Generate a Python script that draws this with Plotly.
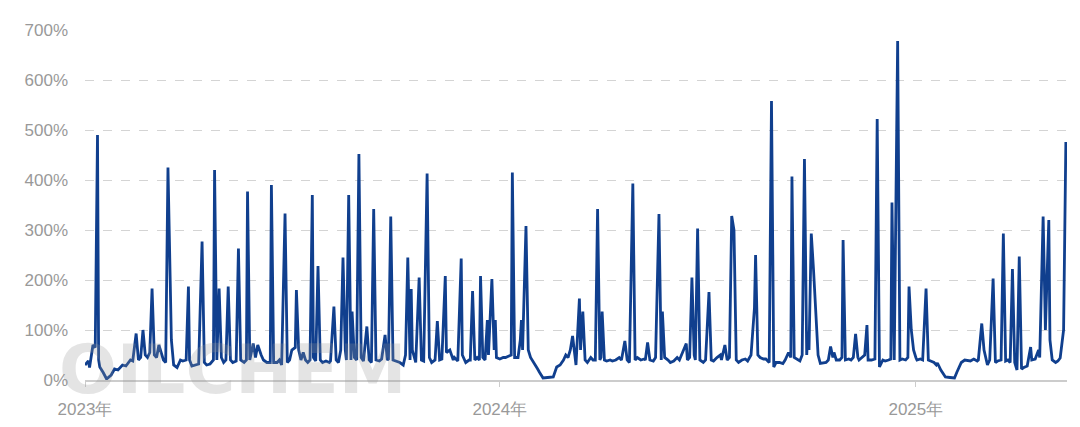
import pandas as pd
import plotly.graph_objects as go

start_date = "2023-01-01"
end_day = 864  # last calendar day shown on the axis (days after start_date)

# calendar days after start_date
days = [
    0, 3, 4, 7, 9, 11, 12, 13, 16, 19, 23, 26, 29, 33, 36, 40, 42, 45, 47, 49,
    51, 53, 55, 57, 59, 61, 63, 65, 67, 69, 71, 73, 76, 78, 81, 84, 86, 89, 91, 92,
    94, 98, 100, 103, 105, 107, 110, 113, 114, 116, 118, 120, 122, 124, 126, 128, 130, 133, 135, 137,
    140, 142, 143, 145, 148, 150, 152, 155, 157, 160, 163, 164, 166, 169, 171, 173, 176, 178, 180, 182,
    185, 186, 188, 190, 192, 194, 196, 198, 200, 201, 203, 205, 207, 209, 212, 215, 216, 219, 221, 223,
    225, 227, 229, 230, 232, 234, 235, 237, 239, 241, 243, 245, 248, 250, 252, 254, 256, 259, 261, 264,
    266, 267, 269, 271, 274, 277, 280, 282, 284, 286, 287, 288, 291, 294, 296, 298, 301, 303, 305, 308,
    310, 312, 314, 317, 318, 321, 324, 325, 328, 331, 332, 335, 338, 339, 341, 343, 345, 347, 348, 350,
    352, 354, 355, 358, 360, 361, 362, 365, 368, 370, 373, 375, 376, 378, 381, 383, 384, 385, 388, 390,
    392, 395, 398, 400, 403, 407, 412, 415, 418, 421, 423, 425, 427, 429, 431, 432, 435, 436, 438, 440,
    442, 445, 447, 449, 451, 453, 454, 455, 457, 459, 462, 464, 467, 470, 472, 475, 477, 479, 482, 484,
    486, 489, 492, 493, 495, 497, 500, 502, 505, 507, 508, 510, 513, 515, 518, 521, 523, 526, 529, 530,
    532, 534, 536, 537, 539, 541, 544, 546, 549, 551, 553, 556, 559, 560, 563, 565, 567, 569, 571, 573,
    575, 578, 581, 583, 586, 589, 590, 592, 594, 597, 599, 602, 604, 606, 608, 611, 614, 616, 619, 621,
    622, 624, 627, 629, 631, 633, 635, 636, 637, 639, 641, 643, 645, 647, 650, 652, 654, 656, 658, 659,
    661, 664, 666, 667, 669, 672, 674, 676, 678, 680, 681, 684, 686, 688, 689, 692, 695, 697, 699, 702,
    704, 707, 709, 710, 712, 715, 717, 719, 722, 724, 725, 727, 729, 731, 732, 735, 737, 740, 742, 744,
    747, 749, 750, 753, 757, 761, 765, 767, 769, 771, 774, 777, 779, 782, 785, 786, 789, 791, 793, 794,
    796, 799, 801, 803, 806, 808, 810, 812, 814, 816, 818, 820, 822, 824, 826, 829, 832, 833, 836, 839,
    840, 843, 845, 848, 849, 851, 854, 856, 858, 861, 863,
]

# value in %
values = [
    30, 38, 25, 70, 65, 490, 40, 26, 15, 2, 10, 22, 20, 30, 28, 40, 38, 93, 40, 45,
    100, 50, 45, 55, 183, 50, 45, 70, 55, 40, 35, 425, 80, 30, 25, 40, 38, 40, 187, 40,
    28, 30, 32, 277, 35, 30, 32, 40, 420, 40, 183, 45, 35, 40, 187, 40, 35, 38, 263, 40,
    35, 40, 377, 40, 73, 45, 70, 50, 40, 35, 35, 390, 35, 35, 40, 30, 333, 35, 40, 60,
    65, 180, 60, 40, 55, 40, 35, 40, 370, 45, 38, 228, 40, 35, 38, 35, 38, 147, 40, 35,
    60, 245, 60, 40, 370, 40, 137, 45, 40, 452, 45, 38, 107, 40, 35, 342, 40, 38, 42, 90,
    40, 42, 327, 40, 38, 35, 30, 50, 245, 40, 182, 60, 35, 205, 40, 38, 413, 45, 35, 40,
    118, 40, 42, 208, 55, 60, 40, 45, 38, 243, 50, 35, 40, 40, 178, 40, 45, 40, 208, 45,
    40, 120, 50, 202, 60, 120, 45, 42, 45, 45, 48, 50, 415, 45, 45, 80, 120, 60, 308, 60,
    45, 35, 23, 15, 4, 5, 6, 26, 30, 40, 50, 45, 60, 88, 40, 30, 163, 60, 137, 40,
    35, 45, 40, 40, 342, 40, 45, 137, 40, 38, 40, 38, 40, 45, 40, 78, 40, 35, 393, 40,
    45, 40, 42, 40, 75, 40, 38, 45, 332, 40, 137, 45, 40, 35, 38, 45, 40, 55, 73, 40,
    45, 205, 50, 40, 303, 40, 35, 40, 176, 40, 38, 45, 50, 40, 70, 40, 45, 328, 300, 40,
    35, 40, 42, 38, 50, 144, 250, 50, 45, 42, 42, 35, 558, 26, 35, 35, 33, 40, 55, 45,
    407, 45, 40, 38, 50, 442, 50, 97, 60, 293, 220, 120, 50, 33, 35, 35, 40, 67, 45, 55,
    40, 40, 45, 280, 40, 42, 40, 45, 92, 45, 40, 45, 50, 110, 40, 40, 42, 522, 26, 40,
    38, 40, 42, 355, 40, 678, 40, 42, 40, 45, 187, 100, 60, 45, 40, 42, 40, 183, 40, 38,
    35, 30, 34, 20, 6, 5, 4, 15, 26, 35, 40, 38, 38, 42, 38, 40, 113, 60, 38, 30,
    40, 203, 35, 38, 40, 293, 38, 40, 35, 222, 35, 20, 247, 22, 25, 28, 66, 40, 42, 60,
    45, 327, 100, 320, 80, 40, 35, 38, 44, 100, 476,
]

y_ticks = [0, 100, 200, 300, 400, 500, 600, 700]
y_tick_labels = [f"{v}%" for v in y_ticks]
x_tick_dates = ["2023-01-01", "2024-01-01", "2025-01-01"]
x_tick_labels = ["2023年", "2024年", "2025年"]

dates = pd.to_datetime(start_date) + pd.to_timedelta(days, unit="D")
x_end = pd.to_datetime(start_date) + pd.Timedelta(days=end_day)

fig = go.Figure()
fig.add_trace(go.Scatter(
    x=dates, y=values, mode="lines",
    line=dict(color="#103f8e", width=2.8),
    showlegend=False, hoverinfo="skip",
))

fig.add_annotation(
    text="<b>OILCHEM</b>", xref="paper", yref="paper", x=0.15, y=0.03,
    xanchor="center", yanchor="middle", showarrow=False,
    font=dict(family="DejaVu Sans", size=68, color="rgba(150,150,150,0.26)"),
)

# the page body adds an 8px offset, so the figure is sized to fit the window
fig.update_layout(
    width=1072, height=419,
    margin=dict(l=77, r=13, t=22, b=47),
    paper_bgcolor="white", plot_bgcolor="white",
    font=dict(family="Liberation Sans, Arial", size=17, color="#999999"),
    xaxis=dict(
        range=[pd.to_datetime(start_date), x_end],
        tickvals=pd.to_datetime(x_tick_dates), ticktext=x_tick_labels,
        showgrid=False, showline=True, linecolor="#cccccc", linewidth=2,
        ticks="outside", ticklen=5, tickcolor="#cccccc", tickwidth=1,
        ticklabelstandoff=8, automargin=False,
        tickfont=dict(size=17, color="#999999"), zeroline=False,
    ),
    yaxis=dict(
        range=[0, 700], tickvals=y_ticks, ticktext=y_tick_labels,
        showgrid=True, gridcolor="#d4d4d4", griddash="dash", gridwidth=1,
        zeroline=False, showline=False, ticks="",
        ticklabelstandoff=16, automargin=False,
        tickfont=dict(size=17, color="#999999"),
    ),
)

fig.write_html("out.html")
